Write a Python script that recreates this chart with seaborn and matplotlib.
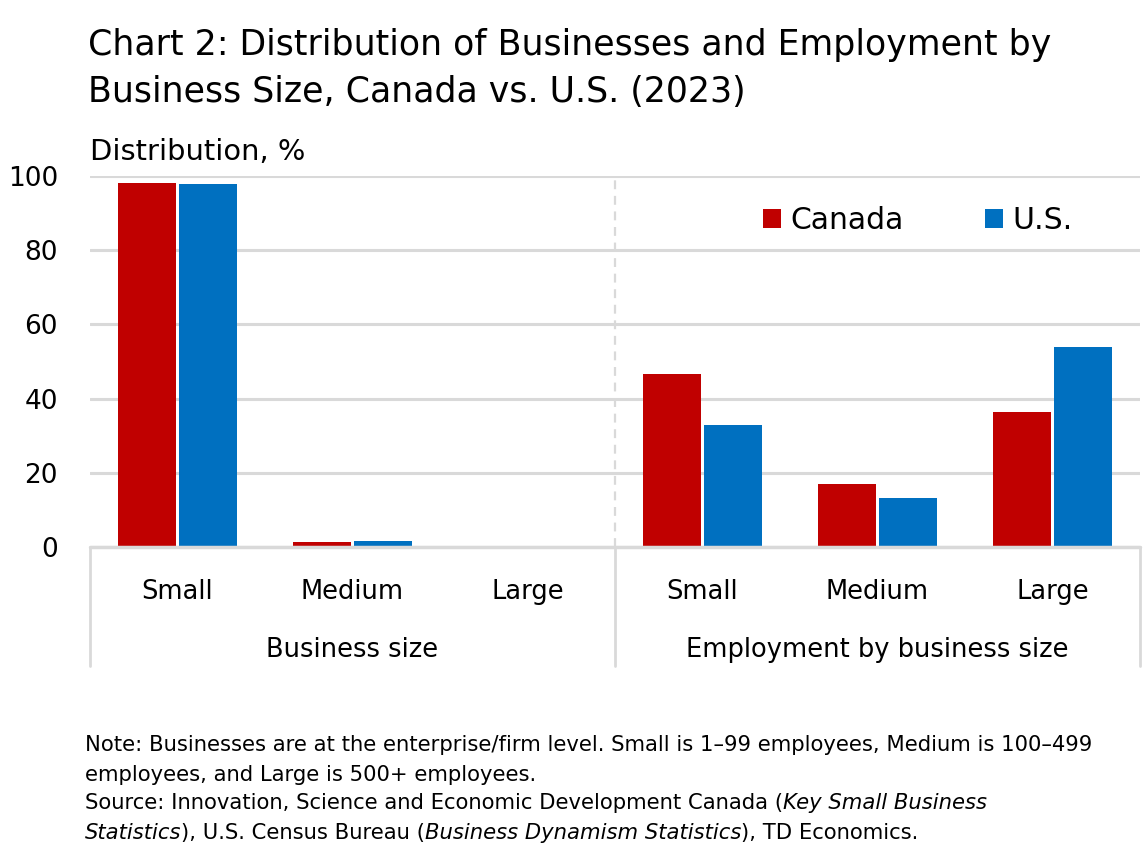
import pandas as pd
import seaborn as sns
import matplotlib.pyplot as plt
import matplotlib.transforms as mtransforms

# values (%)
sizes = ["Small", "Medium", "Large"]
groups = ["Business size", "Employment by business size"]
canada = [98.1, 1.3, 0.2, 46.6, 17.0, 36.3]
us = [97.8, 1.6, 0.2, 32.8, 13.2, 53.9]

RED = "#C00000"
BLUE = "#0070C0"
GRID = "#D9D9D9"

sns.set_style("white")
plt.rcParams["font.family"] = ["DejaVu Sans"]
plt.rcParams["text.color"] = "black"
plt.rcParams["xtick.color"] = "black"
plt.rcParams["ytick.color"] = "black"

keys = [f"{g}|{s}" for g in groups for s in sizes]
df = pd.DataFrame({
    "key": keys * 2,
    "value": canada + us,
    "country": ["Canada"] * 6 + ["U.S."] * 6,
})

fig = plt.figure(figsize=(11.43, 8.48), dpi=100)
ax = fig.add_axes([0.0787, 0.355, 0.9187, 0.4375])

sns.barplot(data=df, x="key", y="value", hue="country", order=keys,
            palette=[RED, BLUE], width=0.7, gap=0.05, saturation=1,
            edgecolor="none", ax=ax, zorder=3)

ax.set_xlim(-0.5, 5.5)
ax.set_ylim(0, 100)
ax.set_yticks(range(0, 101, 20))
ax.tick_params(axis="y", labelsize=19, length=0, pad=23)
ax.yaxis.grid(True, color=GRID, lw=2.2, zorder=0)
for s in ax.spines.values():
    s.set_visible(False)
ax.set_xlabel("")
ax.set_ylabel("")
ax.set_xticks(range(6))
ax.set_xticklabels(sizes * 2, fontsize=18.5)
ax.tick_params(axis="x", length=0, pad=23)

# category axis lines below plot
trans = mtransforms.blended_transform_factory(ax.transData, ax.transAxes)
ax.plot([-0.5, 5.5], [0, 0], transform=trans, color=GRID, lw=2.5, clip_on=False, zorder=4)
for xv in [-0.5, 2.5, 5.5]:
    ax.plot([xv, xv], [0, -0.32], transform=trans, color=GRID, lw=2, clip_on=False)
ax.plot([2.5, 2.5], [0, 1.0], transform=trans, color=GRID, lw=1.6, ls=(0, (4, 3)), clip_on=False)
for i, g in enumerate(groups):
    ax.text(1 + 3 * i, -0.277, g, transform=trans, ha="center", va="center", fontsize=18.5)

# legend
handles, labels = ax.get_legend_handles_labels()
ax.legend(handles, labels, loc="center right", bbox_to_anchor=(0.95, 0.881), ncol=2,
          frameon=False, fontsize=21.5, handlelength=0.6, handleheight=0.6,
          handletextpad=0.3, columnspacing=2.75, borderpad=0)

# titles
fig.text(0.077, 0.947, "Chart 2: Distribution of Businesses and Employment by",
         fontsize=25, va="center")
fig.text(0.077, 0.8915, "Business Size, Canada vs. U.S. (2023)", fontsize=25, va="center")
fig.text(0.079, 0.8208, "Distribution, %", fontsize=20.8, va="center")

# footnote with italic pieces
note_fs = 15.2
x0 = 0.074
line1 = [("Note: Businesses are at the enterprise/firm level. Small is 1\u201399 employees, "
          "Medium is 100\u2013499", "normal")]
line2 = [("employees, and Large is 500+ employees.", "normal")]
line3 = [("Source: Innovation, Science and Economic Development Canada (", "normal"),
         ("Key Small Business", "italic")]
line4 = [("Statistics", "italic"), ("), U.S. Census Bureau (", "normal"),
         ("Business Dynamism Statistics", "italic"), ("), TD Economics.", "normal")]

for pieces, y in [(line1, 0.1215), (line2, 0.0861), (line3, 0.0531), (line4, 0.0177)]:
    prev = fig.text(x0, y, pieces[0][0], fontsize=note_fs, va="center", style=pieces[0][1])
    for txt, st in pieces[1:]:
        prev = ax.annotate(txt, xy=(1, 0), xycoords=prev, va="bottom", ha="left",
                           fontsize=note_fs, style=st, annotation_clip=False)

fig.savefig("out.png", dpi=100)
